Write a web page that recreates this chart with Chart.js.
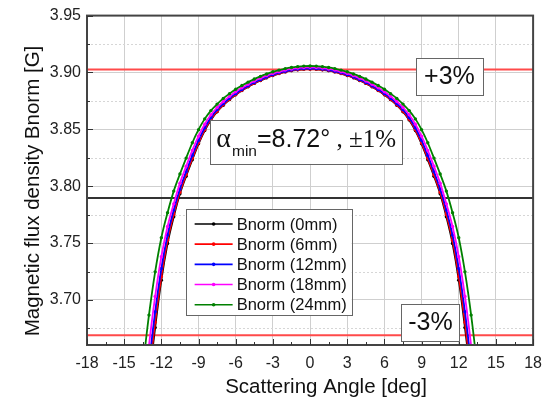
<!DOCTYPE html>
<html lang="en">
<head>
<meta charset="UTF-8">
<title>Bnorm vs scattering angle</title>
<script src="https://cdn.jsdelivr.net/npm/chart.js"></script>
<style>
  html, body { margin: 0; padding: 0; background: #fff; }
</style>
</head>
<body>
<canvas id="chart" width="551" height="402"></canvas>
<script>
// half profiles (angle >= 0), mirrored to negative angles when the datasets are built
const angles = [0, 0.5, 1, 1.5, 2, 2.5, 3, 3.5, 4, 4.5, 5, 5.5, 6, 6.5, 7, 7.5, 8, 8.5, 9, 9.5, 10, 10.5, 11, 11.5, 12, 12.5, 13, 13.5];

const bnorm0mm  = [3.9030, 3.9029, 3.9023, 3.9016, 3.9005, 3.8990, 3.8974, 3.8953, 3.8930, 3.8904, 3.8874, 3.8841, 3.8804, 3.8761, 3.8712, 3.8655, 3.8583, 3.8490, 3.8373, 3.8233, 3.8088, 3.7933, 3.7731, 3.7496, 3.7174, 3.6757, 3.6280, 3.5700];
const bnorm6mm  = [3.9031, 3.9030, 3.9024, 3.9017, 3.9006, 3.8992, 3.8975, 3.8955, 3.8932, 3.8906, 3.8876, 3.8843, 3.8806, 3.8764, 3.8716, 3.8660, 3.8589, 3.8496, 3.8381, 3.8245, 3.8101, 3.7946, 3.7752, 3.7525, 3.7206, 3.6804, 3.6315, 3.5731];
const bnorm12mm = [3.9035, 3.9034, 3.9029, 3.9021, 3.9010, 3.8997, 3.8980, 3.8960, 3.8937, 3.8912, 3.8883, 3.8850, 3.8814, 3.8773, 3.8726, 3.8673, 3.8603, 3.8514, 3.8403, 3.8271, 3.8128, 3.7976, 3.7790, 3.7570, 3.7276, 3.6896, 3.6431, 3.5875];
const bnorm18mm = [3.9045, 3.9044, 3.9039, 3.9031, 3.9021, 3.9007, 3.8992, 3.8972, 3.8950, 3.8925, 3.8897, 3.8865, 3.8830, 3.8790, 3.8745, 3.8692, 3.8628, 3.8545, 3.8440, 3.8315, 3.8175, 3.8027, 3.7845, 3.7646, 3.7380, 3.7031, 3.6597, 3.6076];
const bnorm24mm = [3.9057, 3.9056, 3.9051, 3.9044, 3.9034, 3.9021, 3.9006, 3.8987, 3.8966, 3.8942, 3.8915, 3.8885, 3.8852, 3.8814, 3.8772, 3.8722, 3.8665, 3.8592, 3.8497, 3.8382, 3.8247, 3.8107, 3.7957, 3.7767, 3.7547, 3.7247, 3.6867, 3.6407];

const seriesNames  = ["Bnorm (0mm)", "Bnorm (6mm)", "Bnorm (12mm)", "Bnorm (18mm)", "Bnorm (24mm)"];
const seriesValues = [bnorm0mm, bnorm6mm, bnorm12mm, bnorm18mm, bnorm24mm];
const seriesColors = ["#000000", "#ff0000", "#0000ff", "#ff00ff", "#008000"];

const xTicks = [-18, -15, -12, -9, -6, -3, 0, 3, 6, 9, 12, 15, 18];
const yTicks = [3.70, 3.75, 3.80, 3.85, 3.90, 3.95];
const yMinor = [3.675, 3.725, 3.775, 3.825, 3.875, 3.925];

// tolerance band levels
const bandPlus  = 3.9026;
const bandMid   = 3.7896;
const bandMinus = 3.669;

const SANS = "'Liberation Sans', Arial, sans-serif";
const SERIF = "'Liberation Serif', 'Times New Roman', serif";

function mirrored(vals) {
  const pts = [];
  for (let i = angles.length - 1; i > 0; i--) pts.push({ x: -angles[i], y: vals[i] });
  for (let i = 0; i < angles.length; i++) pts.push({ x: angles[i], y: vals[i] });
  return pts;
}

const datasets = seriesValues.map((vals, i) => ({
  label: seriesNames[i],
  data: mirrored(vals),
  borderColor: seriesColors[i],
  backgroundColor: seriesColors[i],
  borderWidth: 1.8,
  pointRadius: 1.7,
  pointHoverRadius: 1.7,
  pointBorderWidth: 0,
  cubicInterpolationMode: "monotone",
  order: seriesValues.length - i
}));

function box(ctx, x0, y0, x1, y1) {
  ctx.fillStyle = "#fff";
  ctx.fillRect(x0, y0, x1 - x0, y1 - y0);
  ctx.strokeStyle = "#666";
  ctx.lineWidth = 1;
  ctx.strokeRect(Math.round(x0) + 0.5, Math.round(y0) + 0.5, Math.round(x1 - x0), Math.round(y1 - y0));
}

const decor = {
  id: "decor",
  beforeDatasetsDraw(chart) {
    const { ctx, chartArea: a, scales: { x, y } } = chart;
    ctx.save();
    // dotted minor grid
    ctx.strokeStyle = "#d6d6d6";
    ctx.lineWidth = 1;
    ctx.setLineDash([2, 2]);
    yMinor.forEach(v => {
      const py = Math.round(y.getPixelForValue(v)) + 0.5;
      ctx.beginPath(); ctx.moveTo(a.left, py); ctx.lineTo(a.right, py); ctx.stroke();
    });
    ctx.setLineDash([]);
    // tolerance lines
    [[bandPlus, "#ff4a4a"], [bandMid, "#333333"], [bandMinus, "#ff4a4a"]].forEach(([v, c]) => {
      const py = y.getPixelForValue(v);
      ctx.strokeStyle = c;
      ctx.lineWidth = 2;
      ctx.beginPath(); ctx.moveTo(a.left, py); ctx.lineTo(a.right, py); ctx.stroke();
    });
    ctx.restore();
  },
  afterDatasetsDraw(chart) {
    const { ctx, chartArea: a, scales: { x, y } } = chart;
    ctx.save();

    // frame
    ctx.strokeStyle = "#444";
    ctx.lineWidth = 2;
    ctx.strokeRect(a.left, a.top, a.right - a.left, a.bottom - a.top);

    // inward ticks
    ctx.lineWidth = 1;
    ctx.strokeStyle = "#333";
    for (let v = -18; v <= 18; v += 1.5) {
      const px = Math.round(x.getPixelForValue(v)) + 0.5;
      const len = (v % 3 === 0) ? 6 : 3;
      ctx.beginPath(); ctx.moveTo(px, a.bottom); ctx.lineTo(px, a.bottom - len); ctx.stroke();
    }
    yTicks.concat(yMinor).forEach(v => {
      const py = Math.round(y.getPixelForValue(v)) + 0.5;
      const len = yTicks.includes(v) ? 6 : 3;
      ctx.beginPath(); ctx.moveTo(a.left, py); ctx.lineTo(a.left + len, py); ctx.stroke();
    });

    // +3% / -3% labels
    ctx.textAlign = "center";
    ctx.textBaseline = "middle";
    let cx = x.getPixelForValue(11.25), cy = y.getPixelForValue(3.897);
    box(ctx, cx - 33, cy - 18, cx + 34, cy + 19);
    ctx.fillStyle = "#111";
    ctx.font = "25px " + SANS;
    ctx.fillText("+3%", cx, cy + 1);

    cx = x.getPixelForValue(9.72); cy = y.getPixelForValue(3.6804);
    box(ctx, cx - 29, cy - 18, cx + 29, cy + 19);
    ctx.fillStyle = "#111";
    ctx.fillText("-3%", cx, cy + 1);

    // alpha_min label
    const bx0 = x.getPixelForValue(-8.05), by0 = y.getPixelForValue(3.8583);
    box(ctx, bx0, by0, bx0 + 192, by0 + 44);
    ctx.textAlign = "left";
    ctx.textBaseline = "alphabetic";
    ctx.fillStyle = "#111";
    let tx = bx0 + 6;
    const base = by0 + 27;
    ctx.font = "28px " + SERIF;
    ctx.fillText("\u03b1", tx, base);
    tx += ctx.measureText("\u03b1").width + 1;
    ctx.font = "15.5px " + SANS;
    ctx.fillText("min", tx, base + 9);
    tx += ctx.measureText("min").width;
    ctx.font = "25px " + SANS;
    ctx.fillText("=8.72\u00b0", tx, base);
    tx += ctx.measureText("=8.72\u00b0").width;
    ctx.font = "25px " + SERIF;
    ctx.fillText(" , \u00b11%", tx, base);

    // legend
    const lx0 = x.getPixelForValue(-10.04), ly0 = y.getPixelForValue(3.78);
    box(ctx, lx0, ly0, lx0 + 166, ly0 + 106);
    ctx.font = "16.5px " + SANS;
    ctx.textBaseline = "middle";
    chart.data.datasets.forEach((ds, i) => {
      const ry = ly0 + 15 + i * 20.2;
      ctx.strokeStyle = ds.borderColor;
      ctx.lineWidth = 1.6;
      ctx.beginPath(); ctx.moveTo(lx0 + 9, ry); ctx.lineTo(lx0 + 47, ry); ctx.stroke();
      ctx.fillStyle = ds.borderColor;
      ctx.beginPath(); ctx.arc(lx0 + 28, ry, 1.8, 0, Math.PI * 2); ctx.fill();
      ctx.fillStyle = "#111";
      ctx.fillText(ds.label, lx0 + 51, ry + 1);
    });

    // axis titles
    ctx.fillStyle = "#111";
    ctx.font = "20.5px " + SANS;
    ctx.textAlign = "center";
    ctx.textBaseline = "middle";
    ctx.fillText("Scattering Angle [deg]", 326, 387);
    ctx.translate(33, 191);
    ctx.rotate(-Math.PI / 2);
    ctx.fillText("Magnetic flux density Bnorm [G]", 0, 0);
    ctx.restore();
  }
};

new Chart(document.getElementById("chart"), {
  type: "line",
  data: { datasets: datasets },
  plugins: [decor],
  options: {
    responsive: false,
    devicePixelRatio: 1,
    animation: false,
    layout: { padding: { top: 12, right: 8, left: 0, bottom: 0 } },
    plugins: { legend: { display: false }, tooltip: { enabled: false } },
    scales: {
      x: {
        type: "linear",
        min: -18,
        max: 18,
        afterBuildTicks: s => { s.ticks = xTicks.map(v => ({ value: v })); },
        afterFit: s => { s.height = 57; },
        grid: { color: "#cfcfcf", lineWidth: 1, drawTicks: false },
        border: { display: false },
        ticks: { color: "#222", font: { family: SANS, size: 16 }, padding: 9, maxRotation: 0 }
      },
      y: {
        type: "linear",
        min: 3.6604,
        max: 3.95,
        afterBuildTicks: s => { s.ticks = yTicks.map(v => ({ value: v })); },
        afterFit: s => { s.width = 87; },
        grid: { color: "#cfcfcf", lineWidth: 1, drawTicks: false },
        border: { display: false },
        ticks: { color: "#222", font: { family: SANS, size: 16 }, padding: 6, callback: v => v.toFixed(2) }
      }
    }
  }
});
</script>
</body>
</html>
